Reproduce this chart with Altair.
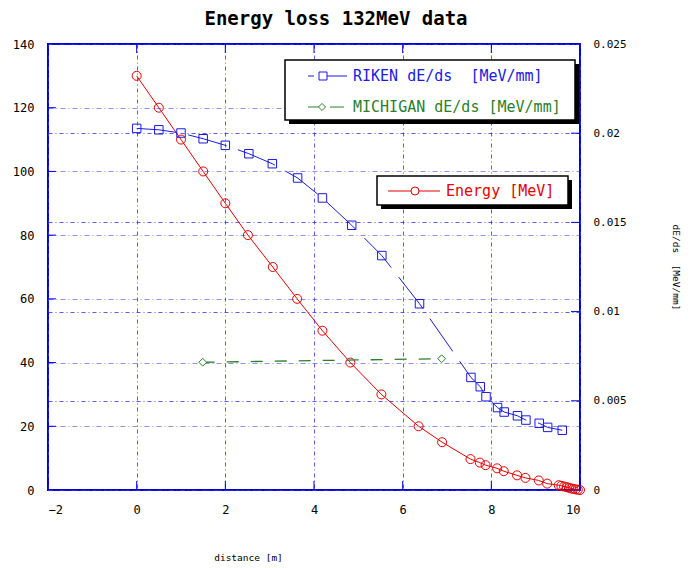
import altair as alt
import pandas as pd

# ---------------- data ----------------
energy_x = [0.0, 0.5, 1.0, 1.5, 2.0, 2.51, 3.07, 3.62, 4.19, 4.82, 5.52, 6.36, 6.89,
            7.53, 7.74, 7.87, 8.13, 8.28, 8.58, 8.77, 9.07, 9.26, 9.52, 9.58, 9.64,
            9.70, 9.75, 9.80, 9.85, 9.90, 9.95, 10.0]
energy_e = [130, 120, 110, 100, 90, 80, 70, 60, 50, 40, 30, 20, 15,
            9.7, 8.6, 7.8, 6.8, 5.9, 4.6, 3.8, 3.0, 2.0, 1.5, 1.3, 1.1,
            0.9, 0.7, 0.5, 0.35, 0.2, 0.1, 0.0]

riken_x = [0.0, 0.5, 1.0, 1.5, 2.0, 2.53, 3.06, 3.63, 4.19, 4.85, 5.53, 6.38,
           7.54, 7.75, 7.88, 8.14, 8.29, 8.59, 8.78, 9.08, 9.27, 9.60]
riken_v = [0.02027, 0.02019, 0.02001, 0.01969, 0.01932, 0.01885, 0.01829, 0.01749,
           0.01637, 0.01484, 0.01314, 0.01044, 0.00631, 0.00579, 0.00523, 0.00462,
           0.00437, 0.00416, 0.00392, 0.00374, 0.00351, 0.00335]

mich_x = [1.49, 6.88]
mich_v = [0.00716, 0.00736]

x_ticks = [-2, 0, 2, 4, 6, 8, 10]
left_ticks = [0, 20, 40, 60, 80, 100, 120, 140]
right_ticks = [0, 0.005, 0.01, 0.015, 0.02, 0.025]

NB = "\u00a0"
title_text = "Energy loss 132MeV data"
x_title = "distance [m]"
right_title = "dE/ds " + NB + "[MeV/mm]"
legend_riken = "RIKEN dE/ds " + NB + "[MeV/mm]"
legend_mich = "MICHIGAN dE/ds [MeV/mm]"
legend_energy = "Energy [MeV]"

# ---------------- style ----------------
W, H = 532, 446
FONT = "DejaVu Sans Mono"
RED = "#e60000"
BLUE = "#1a1ae0"
GREEN = "#2a7f2a"
GRID = "#3333dd"
FRAME = "#0000dd"

xscale = alt.Scale(domain=[-2, 10], nice=False, zero=False)
yl = alt.Scale(domain=[0, 140], nice=False)
yr = alt.Scale(domain=[0, 0.025], nice=False)

xaxis = alt.Axis(values=x_ticks, title=x_title, grid=True, gridColor=GRID,
                 gridOpacity=0.8, gridDash=[4, 3, 1, 3], ticks=False, tickSize=0,
                 domain=False, labelPadding=14, labelFont=FONT, labelFontSize=12,
                 labelColor="black", titleFont=FONT, titleFontSize=9.5,
                 titleFontWeight="normal", titleColor="black", titleX=200, titleY=67,
                 titleBaseline="middle", titleAlign="center")
laxis = alt.Axis(values=left_ticks, orient="left", title="", grid=True,
                 gridColor=GRID, gridOpacity=0.55, gridDash=[5, 3, 1, 3],
                 ticks=False, tickSize=0, domain=False, labelPadding=14,
                 labelFont=FONT, labelFontSize=12, labelColor="black")
raxis = alt.Axis(values=right_ticks, orient="right", title=right_title, grid=True,
                 gridColor=GRID, gridOpacity=0.8, gridDash=[4, 3, 1, 3],
                 ticks=False, tickSize=0, domain=False, labelPadding=13,
                 labelFont=FONT, labelFontSize=11, labelColor="black",
                 labelExpr="format(datum.value, '~g')",
                 titleFont=FONT, titleFontSize=9.5, titleFontWeight="normal",
                 titleColor="black", titleAngle=90, titleX=95, titleY=H / 2,
                 titleBaseline="middle", titleAlign="center")

edf = pd.DataFrame({"x": energy_x, "e": energy_e})
rdf = pd.DataFrame({"x": riken_x, "v": riken_v})
mdf = pd.DataFrame({"x": mich_x, "v": mich_v})
xt = pd.DataFrame({"x": x_ticks})
lt = pd.DataFrame({"e": left_ticks[1:-1]})
rt = pd.DataFrame({"v": right_ticks[1:-1]})

X = alt.X("x:Q", scale=xscale, axis=xaxis)
YL = alt.Y("e:Q", scale=yl, axis=laxis)
YR = alt.Y("v:Q", scale=yr, axis=raxis)

# ---------------- left (Energy) layer ----------------
e_line = alt.Chart(edf).mark_line(color=RED, strokeWidth=1).encode(x=X, y=YL)
e_pts = alt.Chart(edf).mark_point(shape="circle", size=81, color=RED, filled=False,
                                  strokeWidth=1, opacity=1).encode(x=X, y=YL)
x_bot = alt.Chart(xt).mark_rule(color=FRAME, strokeWidth=1).encode(
    x=X, y=alt.value(H), y2=alt.value(H - 9))
x_top = alt.Chart(xt).mark_rule(color=FRAME, strokeWidth=1).encode(
    x=X, y=alt.value(0), y2=alt.value(9))
l_tk = alt.Chart(lt).mark_rule(color=FRAME, strokeWidth=1).encode(
    y=YL, x=alt.value(0), x2=alt.value(8))

left = alt.layer(e_line, e_pts, x_bot, x_top, l_tk)

# ---------------- right (dE/ds) layer ----------------
r_line = alt.Chart(rdf).mark_line(color=BLUE, strokeWidth=1, strokeDash=[40, 12]).encode(x=X, y=YR)
r_pts = alt.Chart(rdf).mark_point(shape="square", size=72, color=BLUE, filled=False,
                                  strokeWidth=1, opacity=1).encode(x=X, y=YR)
m_line = alt.Chart(mdf).mark_line(color=GREEN, strokeWidth=1.3, strokeDash=[12, 12]).encode(x=X, y=YR)
m_pts = alt.Chart(mdf).mark_point(shape="diamond", size=60, stroke=GREEN, fill="white",
                                  filled=True, strokeWidth=1, opacity=1).encode(x=X, y=YR)
r_tk = alt.Chart(rt).mark_rule(color=FRAME, strokeWidth=1).encode(
    y=YR, x=alt.value(W - 9), x2=alt.value(W))

right = alt.layer(r_line, r_pts, m_line, m_pts, r_tk)

# ---------------- custom legends ----------------
one = pd.DataFrame({"k": [0]})


def box(x1, y1, x2, y2):
    shadow = alt.Chart(one).mark_rect(fill="black").encode(
        x=alt.value(x1 + 4), x2=alt.value(x2 + 4), y=alt.value(y1 + 4), y2=alt.value(y2 + 4))
    body = alt.Chart(one).mark_rect(fill="white", stroke="black", strokeWidth=1.5).encode(
        x=alt.value(x1), x2=alt.value(x2), y=alt.value(y1), y2=alt.value(y2))
    return [shadow, body]


def seg(x1, x2, y, color, dash):
    return alt.Chart(one).mark_rule(color=color, strokeWidth=1, strokeDash=dash).encode(
        x=alt.value(x1), x2=alt.value(x2), y=alt.value(y))


def sym(x, y, shape, color, size, fill):
    return alt.Chart(one).mark_point(shape=shape, size=size, stroke=color, fill=fill,
                                     filled=True, strokeWidth=1, opacity=1).encode(
        x=alt.value(x), y=alt.value(y))


def txt(x, y, s, color):
    return alt.Chart(one).mark_text(text=s, font=FONT, fontSize=15, color=color,
                                    align="left", baseline="middle").encode(
        x=alt.value(x), y=alt.value(y))


legend_layers = []
legend_layers += box(237, 16, 527, 76)
legend_layers += [seg(260, 299, 32, BLUE, [6, 5, 40]), sym(275, 32, "square", BLUE, 64, "white"),
                  txt(305, 32, legend_riken, BLUE)]
legend_layers += [seg(260, 296, 63, GREEN, [14, 8, 14]), sym(274, 63, "diamond", GREEN, 50, "white"),
                  txt(305, 63, legend_mich, GREEN)]
legend_layers += box(329, 132, 520, 161)
legend_layers += [seg(340, 392, 147, RED, [1, 0]), sym(367, 147, "circle", RED, 64, "white"),
                  txt(398, 147, legend_energy, RED)]

legend = alt.layer(*legend_layers)

chart = alt.layer(left, right, legend).resolve_scale(y="independent").properties(
    width=W, height=H,
    title=alt.TitleParams(title_text, font=FONT, fontSize=19, fontWeight="bold",
                          anchor="middle", dx=22, offset=9, color="black"),
    autosize=alt.AutoSizeParams(type="none"),
    padding={"left": 40, "top": 36, "right": 103, "bottom": 78},
    background="white",
).configure_view(stroke=FRAME, strokeWidth=2)

chart.save("out.html", embed_options={"renderer": "svg", "actions": False})
